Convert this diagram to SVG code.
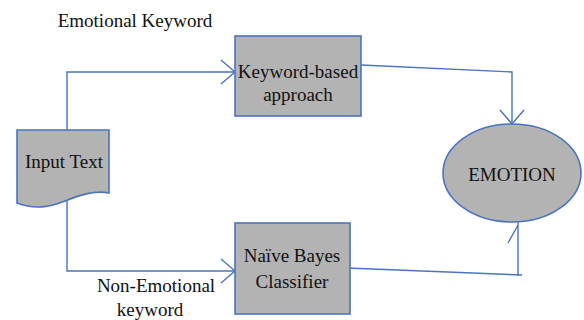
<svg xmlns="http://www.w3.org/2000/svg" width="584" height="320" viewBox="0 0 584 320">
<style>
.node{fill:#b3b3b3;stroke:#4a74bf;stroke-width:1.6}
.conn{fill:none;stroke:#4a74bf;stroke-width:1.4}
.t{font-family:'Liberation Serif','DejaVu Serif',serif;font-size:19px;fill:#111}
.c{text-anchor:middle}
</style>
<defs>
<marker id="arr" markerUnits="userSpaceOnUse" markerWidth="18" markerHeight="28" refX="15" refY="13" orient="auto">
<path d="M1,1 L15,13 L1,25" fill="none" stroke="#4a74bf" stroke-width="1.4"/>
</marker>
</defs>
<rect width="584" height="320" fill="#fff"/>
<g id="connectors">
<path class="conn" d="M67,138 V72 H235" marker-end="url(#arr)"/>
<path class="conn" d="M67,198 V271 H235" marker-end="url(#arr)"/>
<path class="conn" d="M361,65 L512,72 V124" marker-end="url(#arr)"/>
<path class="conn" d="M347,268 L522,275 M518,276 V222 M508,243 L518,225"/>
</g>
<g id="input-text">
<path class="node" d="M17,130 H109 V193 C95,190 80,195 65,201 C50,207 35,210 17,203 Z"/>
<text class="t c" x="64" y="168" font-family="Liberation Serif, serif">Input Text</text>
</g>
<g id="keyword-based">
<rect class="node" x="235" y="36" width="126" height="80"/>
<text class="t c" x="298" y="78">Keyword-based</text>
<text class="t c" x="298" y="101">approach</text>
</g>
<g id="naive-bayes">
<rect class="node" x="235" y="223" width="115" height="91"/>
<text class="t c" x="292" y="262">Naïve Bayes</text>
<text class="t c" x="292" y="288">Classifier</text>
</g>
<g id="emotion">
<ellipse class="node" cx="512" cy="173" rx="69" ry="49"/>
<text class="t c" x="512" y="181">EMOTION</text>
</g>
<g id="labels">
<text class="t c" x="135" y="27">Emotional Keyword</text>
<text class="t c" x="156" y="292">Non-Emotional</text>
<text class="t c" x="150" y="316">keyword</text>
</g>
</svg>
